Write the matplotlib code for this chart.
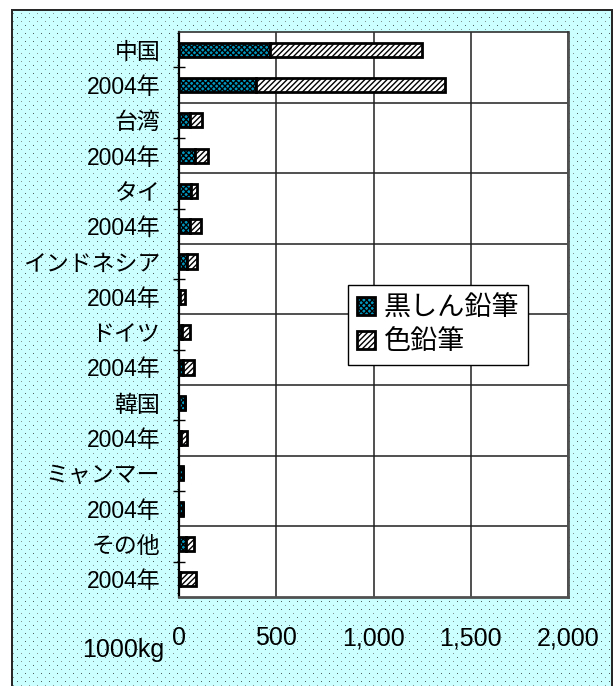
import numpy as np
import matplotlib
matplotlib.use("Agg")
import matplotlib.pyplot as plt
from matplotlib.patches import Patch
from matplotlib.ticker import FixedLocator, FuncFormatter

# Pencil production by origin (unit: 1000kg), latest year vs 2004
categories = ["中国", "2004年", "台湾", "2004年", "タイ", "2004年",
              "インドネシア", "2004年", "ドイツ", "2004年", "韓国", "2004年",
              "ミャンマー", "2004年", "その他", "2004年"]
black_lead = [470, 395, 55, 80, 63, 55, 43, 5, 17, 18, 30, 12, 18, 20, 35, 5]
colored = [780, 975, 62, 68, 30, 60, 50, 25, 40, 57, 3, 28, 0, 0, 42, 80]
series_names = ["黒しん鉛筆", "色鉛筆"]
x_ticks = [0, 500, 1000, 1500, 2000]
unit_label = "1000kg"

LATIN_CJK = ["Liberation Sans", "Noto Sans CJK JP"]
plt.rcParams["font.family"] = LATIN_CJK
plt.rcParams["hatch.linewidth"] = 1.0

W, H = 615, 686
fig = plt.figure(figsize=(W / 100, H / 100), dpi=100)

# dotted light-cyan chart background with a dark frame
bg = np.full((H, W, 3), 255, np.uint8)
yy, xx = np.mgrid[0:H, 0:W]
inside = (xx >= 13) & (xx < 611) & (yy >= 11)
bg[inside] = (204, 255, 255)
bg[inside & (xx % 8 == 1) & (yy % 8 == 1)] = (80, 95, 95)
bg[inside & (xx % 8 == 5) & (yy % 8 == 5)] = (130, 150, 150)
frame = ((((xx >= 11) & (xx < 13)) | ((xx >= 611) & (xx < 613))) & (yy >= 9)) | \
        ((yy >= 9) & (yy < 11) & (xx >= 11) & (xx < 613))
bg[frame] = (40, 40, 40)
fig.figimage(bg, xo=0, yo=0, origin="upper", zorder=-10)

left, right, top, bottom = 179, 568, 32, 597
ax = fig.add_axes([left / W, 1 - bottom / H, (right - left) / W, (bottom - top) / H])
ax.set_facecolor("white")

LEAD_FACE = "#0098c0"
LEAD_HATCH = "xxxxxx"
COLOR_HATCH = "//////"

y = np.arange(len(categories))
bar_h = 0.4
ax.barh(y, black_lead, height=bar_h, color=LEAD_FACE, edgecolor="black",
        linewidth=2.0, hatch=LEAD_HATCH, zorder=3, label=series_names[0])
ax.barh(y, colored, left=black_lead, height=bar_h, color="white",
        edgecolor="black", linewidth=2.0, hatch=COLOR_HATCH, zorder=3,
        label=series_names[1])

ax.set_xlim(x_ticks[0], x_ticks[-1])
ax.set_ylim(len(categories) - 0.5, -0.5)

# category labels
ax.set_yticks(y)
ax.set_yticklabels(categories, fontsize=16.5)
ax.tick_params(axis="y", which="major", length=0, pad=13.5)
# tick marks inside each pair, gridlines between pairs
ax.yaxis.set_minor_locator(FixedLocator(np.arange(0.5, len(categories) - 1, 2)))
ax.tick_params(axis="y", which="minor", direction="inout", length=9,
               width=1, color="black")
for b in np.arange(1.5, len(categories) - 1, 2):
    ax.axhline(b, color="#202020", linewidth=1.1, zorder=1)

ax.set_xticks(x_ticks)
ax.xaxis.set_major_formatter(FuncFormatter(lambda v, p: f"{int(v):,}"))
ax.tick_params(axis="x", length=0, pad=21, labelsize=18)
ax.grid(axis="x", color="#202020", linewidth=1.1, zorder=1)
ax.set_axisbelow(True)

ax.spines["top"].set_color("#303030")
ax.spines["top"].set_linewidth(1.2)
ax.spines["left"].set_color("black")
ax.spines["left"].set_linewidth(1.6)
for side in ("right", "bottom"):
    ax.spines[side].set_color("#505050")
    ax.spines[side].set_linewidth(2.0)

fig.text(82 / W, 1 - 657 / H, unit_label, fontsize=18, ha="left",
         va="baseline")

handles = [Patch(facecolor=LEAD_FACE, edgecolor="black", hatch=LEAD_HATCH,
                 linewidth=2.0),
           Patch(facecolor="white", edgecolor="black", hatch=COLOR_HATCH,
                 linewidth=2.0)]
leg = fig.legend(handles, series_names, loc="upper left",
                 bbox_to_anchor=(348 / W, 1 - 285 / H),
                 bbox_transform=fig.transFigure, borderaxespad=0,
                 fancybox=False, framealpha=1, edgecolor="black",
                 prop={"family": ["Noto Sans CJK JP"], "size": 19.5},
                 handlelength=0.65, handleheight=0.65, handletextpad=0.3,
                 borderpad=0.35, labelspacing=0.25)
leg.get_frame().set_linewidth(1.0)

fig.savefig("out.png", dpi=100)
